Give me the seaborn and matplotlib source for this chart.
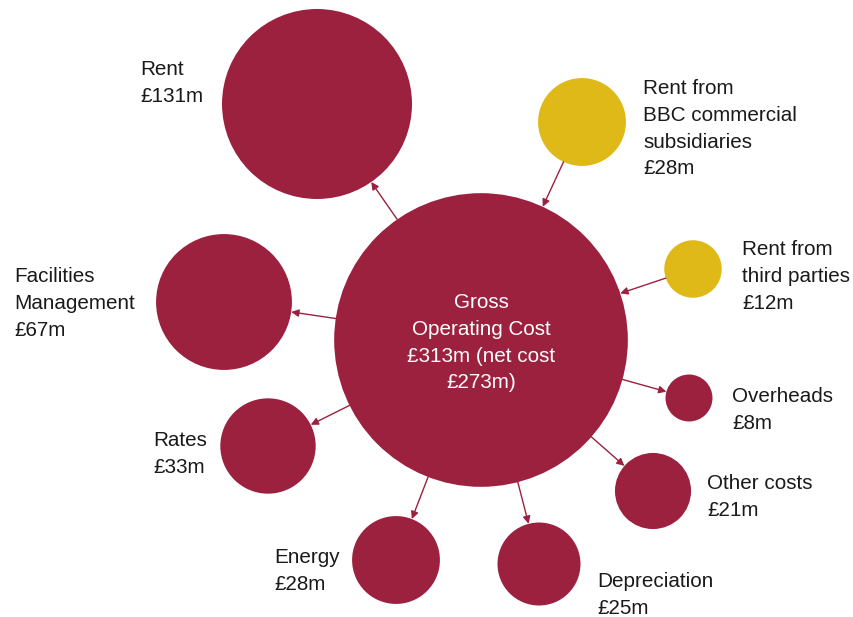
import numpy as np
import pandas as pd
import matplotlib
matplotlib.use("Agg")
import matplotlib.pyplot as plt
import seaborn as sns

# Property costs (£m)
names = ["Gross Operating Cost", "Rent", "Rent from BBC commercial subsidiaries",
         "Rent from third parties", "Facilities Management", "Rates", "Energy",
         "Depreciation", "Other costs", "Overheads"]
values = [313, 131, 28, 12, 67, 33, 28, 25, 21, 8]
kinds = ["total", "cost", "income", "income", "cost", "cost", "cost", "cost", "cost", "cost"]
labels = [
    ["Gross", "Operating Cost", "£313m (net cost", "£273m)"],
    ["Rent", "£131m"],
    ["Rent from", "BBC commercial", "subsidiaries", "£28m"],
    ["Rent from", "third parties", "£12m"],
    ["Facilities", "Management", "£67m"],
    ["Rates", "£33m"],
    ["Energy", "£28m"],
    ["Depreciation", "£25m"],
    ["Other costs", "£21m"],
    ["Overheads", "£8m"],
]

# Layout (pixel coordinates): bubble centres and label anchors (x, first baseline)
cx = [481, 317, 582, 693, 224, 268, 396, 539, 653, 689]
cy = [340, 104, 122, 269, 302, 446, 560, 564, 491, 398]
label_x = [481, 140, 643, 742, 14, 153, 274, 597, 707, 732]
label_y = [308.5, 75, 94, 255, 282, 446, 563, 587, 489, 402]

CRIMSON = "#9B213F"
GOLD = "#DFB917"
palette = {"total": CRIMSON, "cost": CRIMSON, "income": GOLD}

W, H, DPI = 854, 617, 100
K = 8.3                      # bubble radius in px = K * sqrt(value)
PT_PER_PX = 72 / DPI

df = pd.DataFrame({"name": names, "value": values, "kind": kinds, "x": cx, "y": cy})
vmax = max(values)
smax = (2 * K * np.sqrt(vmax) * PT_PER_PX) ** 2

sns.set_theme(style="white")
plt.rcParams["font.family"] = ["Liberation Sans", "DejaVu Sans"]

fig = plt.figure(figsize=(W / DPI, H / DPI), dpi=DPI)
ax = fig.add_axes([0, 0, 1, 1])

sns.scatterplot(data=df, x="x", y="y", hue="kind", palette=palette,
                size="value", sizes=(0, smax), size_norm=(0, vmax),
                linewidth=0, alpha=1, legend=False, ax=ax, zorder=2)

ax.set_xlim(0, W)
ax.set_ylim(H, 0)
ax.axis("off")

# Arrows between the central bubble and each satellite
r = K * np.sqrt(np.array(values, dtype=float))
x0, y0, r0 = cx[0], cy[0], r[0]
for i in range(1, len(values)):
    dx, dy = cx[i] - x0, cy[i] - y0
    d = np.hypot(dx, dy)
    ux, uy = dx / d, dy / d
    p_center = (x0 + ux * r0, y0 + uy * r0)
    p_sat = (cx[i] - ux * r[i], cy[i] - uy * r[i])
    if kinds[i] == "income":
        start, end = p_sat, p_center
    else:
        start, end = p_center, p_sat
    ax.annotate("", xy=end, xytext=start, xycoords="data",
                arrowprops=dict(arrowstyle="-|>", color=CRIMSON, lw=1.0,
                                mutation_scale=11, shrinkA=0, shrinkB=0),
                zorder=3)

# Labels
FS = 14.9
LINE = 26.8
for i, lines in enumerate(labels):
    for j, line in enumerate(lines):
        if kinds[i] == "total":
            ax.text(label_x[i], label_y[i] + j * 26.6, line, ha="center", va="baseline",
                    color="white", fontsize=FS, zorder=4)
        else:
            ax.text(label_x[i], label_y[i] + j * LINE, line, ha="left", va="baseline",
                    color="#1a1a1a", fontsize=FS, zorder=4)

fig.savefig("out.png", dpi=DPI)
